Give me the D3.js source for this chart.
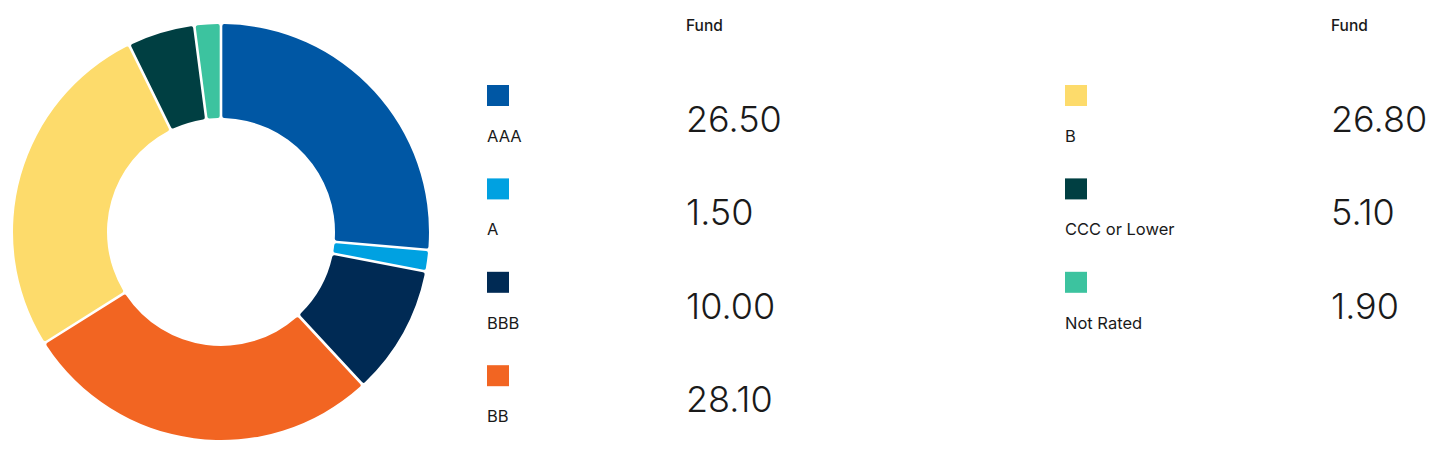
<!DOCTYPE html>
<html><head><meta charset="utf-8">
<script src="https://cdn.jsdelivr.net/npm/d3@7"></script>
<style>
html,body{margin:0;padding:0;background:#fff;}
svg{display:block;}
</style></head>
<body>
<svg id="c" width="1456" height="462"></svg>
<script>
const categories = ["AAA","A","BBB","BB","B","CCC or Lower","Not Rated"];
const fundValues = [26.50,1.50,10.00,28.10,26.80,5.10,1.90];
const valueLabels = ["26.50","1.50","10.00","28.10","26.80","5.10","1.90"];
const colors = ["#0057a4","#00a1e1","#002a54","#f26522","#fddb6b","#003f42","#3cc39f"];
const headerLabel = "Fund";

const svg = d3.select("#c");
const cx = 221, cy = 232, rOuter = 208, rInner = 114;

const pie = d3.pie().sort(null).value(d => d.v).padAngle(0.011);
const data = categories.map((c,i)=>({c, v: fundValues[i], col: colors[i]}));
const arc = d3.arc().innerRadius(rInner).outerRadius(rOuter).cornerRadius(2);

svg.append("g").attr("transform",`translate(${cx},${cy})`)
  .selectAll("path").data(pie(data)).join("path")
  .attr("d",arc).attr("fill",d=>d.data.col);

// legend columns
const cols = [{start:0,n:4,sqX:487,valX:686},{start:4,n:3,sqX:1065,valX:1331}];
const rowY = d3.scaleLinear().domain([0,1]).range([85,178.4]);

cols.forEach(col=>{
  svg.append("text").attr("x",col.valX).attr("y",31)
    .attr("font-family","Inter, 'Noto Sans', sans-serif").attr("font-weight",500)
    .attr("font-size",15.5).attr("fill","#1a1a1a").text(headerLabel);
  for(let k=0;k<col.n;k++){
    const i = col.start+k;
    const y0 = rowY(k);
    const g = svg.append("g");
    g.append("rect").attr("x",col.sqX).attr("y",y0).attr("width",22).attr("height",21)
      .attr("fill",colors[i]);
    g.append("text").attr("x",col.sqX).attr("y",y0+57)
      .attr("font-family","Inter, 'Noto Sans', sans-serif").attr("font-weight",400)
      .attr("font-size",16.5).attr("fill","#1a1a1a").text(categories[i]);
    g.append("text").attr("x",col.valX).attr("y",y0+47)
      .attr("font-family","Inter, 'Noto Sans', sans-serif").attr("font-weight",300)
      .attr("font-size",36).attr("fill","#1a1a1a").text(valueLabels[i]);
  }
});
</script>
</body></html>
